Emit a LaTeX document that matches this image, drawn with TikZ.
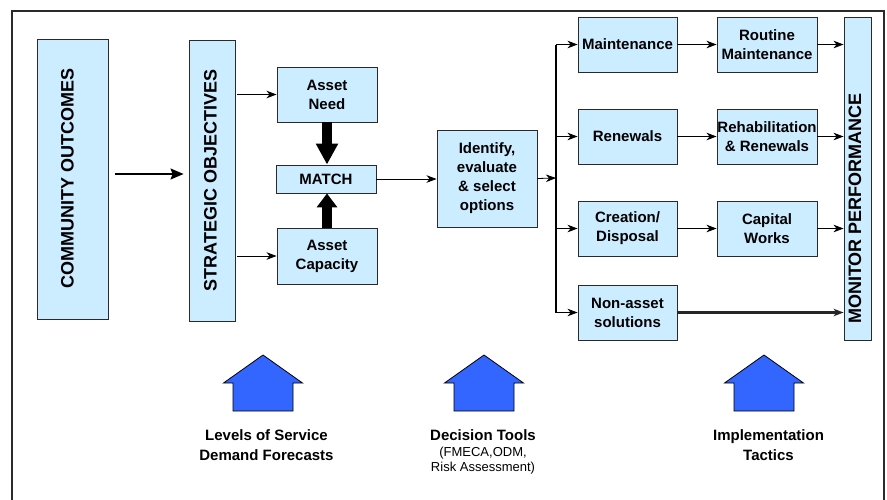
\documentclass[tikz,border=0pt]{standalone}
\usepackage{fontspec}
\setmainfont{Liberation Sans}
\usetikzlibrary{arrows.meta}
\definecolor{boxblue}{HTML}{CCECFF}
\definecolor{arrowblue}{HTML}{3366FF}
\definecolor{edge}{HTML}{2A2A2A}

\begin{document}
\begin{tikzpicture}[x=1pt,y=-1pt,
  box/.style={draw=edge, line width=0.9pt, fill=boxblue, inner sep=0pt,
    align=center, font=\fontsize{15}{19}\selectfont\bfseries},
  vbox/.style={draw=edge, line width=0.9pt, fill=boxblue, inner sep=0pt, rotate=90},
  vtext/.style={rotate=90, inner sep=0pt, font=\fontsize{18}{20}\selectfont\bfseries},
  link/.style={draw=black, line width=0.8pt,
    -{Stealth[length=10pt,width=7.5pt,inset=3pt]}},
  mainlink/.style={draw=black, line width=1.4pt,
    -{Stealth[length=13pt,width=11pt,inset=2pt]}},
  busline/.style={draw=black, line width=1.2pt},
  fatdown/.style={draw=black, line width=10pt,
    -{Triangle[length=21pt,width=21pt]}},
  fatup/.style={draw=black, line width=10pt,
    -{Triangle[length=14pt,width=20pt]}},
  caption/.style={inner sep=0pt, align=center,
    font=\fontsize{15}{20}\selectfont\bfseries},
  subcaption/.style={inner sep=0pt, align=center,
    font=\fontsize{13}{15}\selectfont},
  uparrow/.pic={
    \draw[draw=black, line width=0.8pt, fill=arrowblue, line join=miter]
      (0,0) -- (39.5,28) -- (30,28) -- (30,56) -- (-30,56) -- (-30,28)
      -- (-39.5,28) -- cycle;}
]
\useasboundingbox (0,0) rectangle (887,499);
\clip (0,0) rectangle (887,499);

% outer frame (runs off the lower edge)
\draw[edge, line width=1.6pt] (12,510) -- (12,11) -- (884,11) -- (884,510);

% tall vertical panels
\node[vbox, minimum width=280pt, minimum height=71pt] (co) at (72.5,179) {};
\node[vtext] (cotext) at (67.5,178) {COMMUNITY OUTCOMES};
\node[vbox, minimum width=281pt, minimum height=46pt] (so) at (212,180.5) {};
\node[vtext] (sotext) at (210.5,180.5) {STRATEGIC OBJECTIVES};
\node[vbox, minimum width=323pt, minimum height=27pt] (mp) at (857.5,178.5) {};
\node[vtext] (mptext) at (855,208.5) {MONITOR PERFORMANCE};

% needs / capacity matching
\node[box, minimum width=100pt, minimum height=55pt] (need) at (327,94.5) {Asset\\Need};
\node[box, minimum width=100pt, minimum height=28pt] (match) at (326,179) {MATCH};
\node[box, minimum width=100pt, minimum height=56pt] (cap) at (327,256) {Asset\\Capacity};
\node[box, minimum width=100pt, minimum height=97pt] (ident) at (487,178.5)
  {Identify,\\evaluate\\\& select\\options};

% option branches
\node[box, minimum width=99pt, minimum height=55pt] (maint) at (627.5,44.5) {Maintenance};
\node[box, minimum width=100pt, minimum height=55pt] (routine) at (767,44.5) {Routine\\Maintenance};
\node[box, minimum width=99pt, minimum height=55pt] (renew) at (627.5,136.5) {Renewals};
\node[box, minimum width=100pt, minimum height=55pt] (rehab) at (767,136.5) {Rehabilitation\\\& Renewals};
\node[box, minimum width=99pt, minimum height=55pt] (create) at (627.5,228.5) {Creation/\\Disposal};
\node[box, minimum width=100pt, minimum height=55pt] (capital) at (767,228.5) {Capital\\Works};
\node[box, minimum width=99pt, minimum height=55pt] (nonasset) at (627.5,312.5) {Non-asset\\solutions};

\coordinate (bus) at (556,178);

% connectors
\draw[mainlink, shorten <=7pt, shorten >=5pt]
  ([yshift=5pt]co.south) -- ([yshift=5pt]co.south -| so.north);
\draw[link, shorten <=2pt] (so.south |- need.west) -- (need.west);
\draw[link, shorten <=2pt] (so.south |- cap.west) -- (cap.west);
\draw[fatdown] (need.south) -- (need.south |- match.north);
\draw[fatup] (cap.north) -- (cap.north |- match.south);
\draw[link] (match.east) -- (match.east -| ident.west);
\draw[link] (ident.east) -- (bus);
\draw[busline] (bus |- maint.west) -- (bus |- nonasset.west);
\draw[link] (bus |- maint.west) -- (maint.west);
\draw[link] (bus |- renew.west) -- (renew.west);
\draw[link] (bus |- create.west) -- (create.west);
\draw[link] (bus |- nonasset.west) -- (nonasset.west);
\draw[link] (maint.east) -- (routine.west);
\draw[link] (renew.east) -- (rehab.west);
\draw[link] (create.east) -- (capital.west);
\draw[link] (routine.east) -- (routine.east -| mp.north);
\draw[link] (rehab.east) -- (rehab.east -| mp.north);
\draw[link] (capital.east) -- (capital.east -| mp.north);
\draw[link, line width=2.4pt, draw=black!85] (nonasset.east) -- (nonasset.east -| mp.north);

% input arrows and their captions
\pic at (263,355) {uparrow};
\pic at (484,355) {uparrow};
\pic at (764,355) {uparrow};
\node[caption, anchor=north] (los) at (266.5,429.5) {Levels of Service\\Demand Forecasts};
\node[caption, anchor=north] (dt) at (483,429.5) {Decision Tools};
\node[subcaption, anchor=north] (dtsub) at (483,447) {(FMECA,ODM,\\Risk Assessment)};
\node[caption, anchor=north] (impl) at (768.5,429.5) {Implementation\\Tactics};
\end{tikzpicture}
\end{document}
